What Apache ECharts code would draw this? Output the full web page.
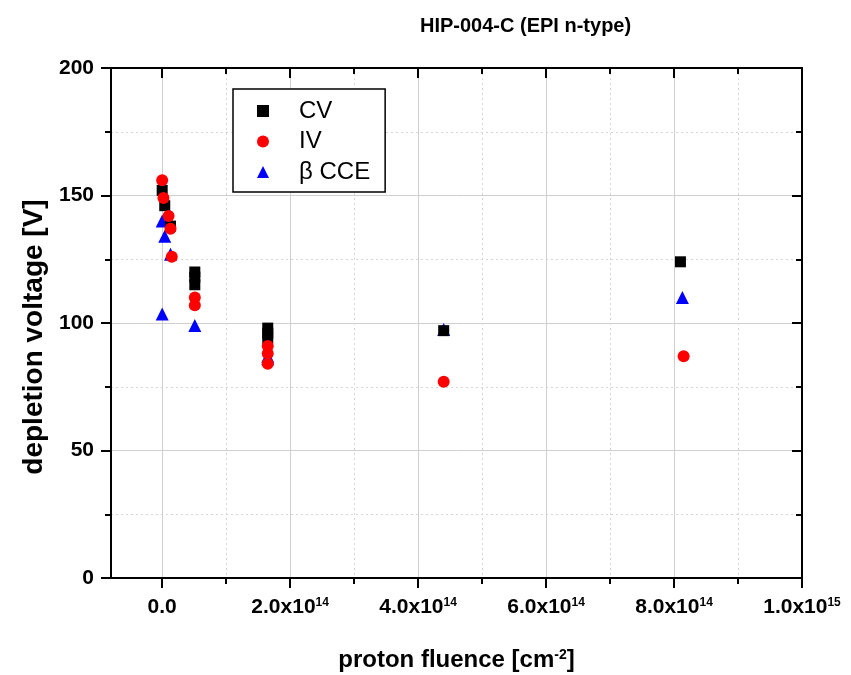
<!DOCTYPE html>
<html><head><meta charset="utf-8">
<script src="https://cdn.jsdelivr.net/npm/echarts@6/dist/echarts.min.js"></script>
<style>html,body{margin:0;padding:0;background:#fff}#c{width:851px;height:675px}</style>
</head><body><div id="c"></div>
<script>
// ---- data ----
const cvX = [0, 0.04e14, 0.13e14, 0.51e14, 0.51e14, 0.51e14, 1.65e14, 1.65e14, 1.65e14, 4.4e14, 8.1e14];
const cvY = [152, 146, 138, 120, 118, 115, 98, 96, 94, 97, 124];
const ivX = [0, 0.02e14, 0.1e14, 0.13e14, 0.15e14, 0.51e14, 0.51e14, 1.65e14, 1.65e14, 1.65e14, 4.4e14, 8.15e14];
const ivY = [156, 149, 142, 137, 126, 110, 107, 91, 88, 84, 77, 87];
const ccX = [0, 0.04e14, 0.13e14, 0, 0.51e14, 1.65e14, 1.65e14, 4.4e14, 8.13e14];
const ccY = [140, 134, 127, 103.5, 99, 87, 86, 97.5, 110];
const seriesNames = ['CV', 'IV', 'β CCE'];
const xMajorTicks = [0, 2e14, 4e14, 6e14, 8e14, 1e15];
const xMinorTicks = [1e14, 3e14, 5e14, 7e14, 9e14];
const xTickMantissa = ['0.0', '2.0', '4.0', '6.0', '8.0', '1.0'];
const xTickExp = ['', '14', '14', '14', '14', '15'];
const title = 'HIP-004-C (EPI n-type)';
const yName = 'depletion voltage [V]';

const FONT = '"Liberation Sans", Arial, Helvetica, sans-serif';
const xMin = -0.8e14, xMax = 1e15;
const pairs = (xs, ys) => xs.map((x, i) => [x, ys[i]]);

function xLabel(v) {
  const i = xMajorTicks.findIndex(t => Math.abs(t - v) < 1e10);
  if (i < 0) return '';
  return xTickExp[i] ? '{m|' + xTickMantissa[i] + 'x10}{s|' + xTickExp[i] + '}' : '{m|' + xTickMantissa[i] + '}';
}

const blackLine = {color: '#000', width: 2};
const chart = echarts.init(document.getElementById('c'));
chart.setOption({
  animation: false,
  backgroundColor: '#fff',
  title: {text: title, left: 415, top: 11,
    textStyle: {fontFamily: FONT, fontWeight: 'bold', fontSize: 20, color: '#000'}},
  grid: {left: 111, right: 49, top: 68, bottom: 97, containLabel: false, outerBoundsMode: 'none'},
  legend: {
    data: seriesNames, orient: 'vertical', left: 233, top: 89,
    padding: [10, 15, 8, 24], itemGap: 6.5, itemWidth: 12, itemHeight: 12,
    borderColor: '#000', borderWidth: 1.5, backgroundColor: '#fff',
    textStyle: {fontFamily: FONT, fontSize: 24, color: '#000', lineHeight: 24, padding: [0, 0, 0, 25]}
  },
  xAxis: [
    {type: 'value', min: xMin, max: xMax, position: 'bottom',
      axisLine: {show: true, onZero: false, lineStyle: blackLine},
      axisTick: {show: true, length: 10, lineStyle: blackLine, customValues: xMajorTicks},
      axisLabel: {customValues: xMajorTicks, margin: 19, formatter: xLabel,
        rich: {m: {fontFamily: FONT, fontWeight: 'bold', fontSize: 21, color: '#000', verticalAlign: 'top', lineHeight: 22},
               s: {fontFamily: FONT, fontWeight: 'bold', fontSize: 12, color: '#000', verticalAlign: 'top', lineHeight: 22, padding: [0, 0, 8, 0]}}},
      splitLine: {show: true, lineStyle: {color: '#cfcfcf', width: 1}},
      name: '{n|proton fluence [cm}{s|-2}{n|]}', nameLocation: 'middle', nameGap: 70,
      nameTextStyle: {rich: {n: {fontFamily: FONT, fontWeight: 'bold', fontSize: 24, color: '#000', verticalAlign: 'top', lineHeight: 26},
                             s: {fontFamily: FONT, fontWeight: 'bold', fontSize: 14, color: '#000', verticalAlign: 'top', lineHeight: 26}}}
    },
    {type: 'value', min: xMin, max: xMax, position: 'bottom',
      axisLine: {show: false, onZero: false},
      axisTick: {show: true, length: 6, lineStyle: blackLine, customValues: xMinorTicks},
      axisLabel: {show: false},
      splitLine: {show: true, lineStyle: {color: '#d6d6d6', width: 1, type: [2, 3]}}
    },
    {type: 'value', min: xMin, max: xMax, position: 'top',
      axisLine: {show: true, onZero: false, lineStyle: blackLine},
      axisTick: {show: true, inside: true, length: 10, lineStyle: blackLine, customValues: xMajorTicks},
      axisLabel: {show: false}, splitLine: {show: false}
    },
    {type: 'value', min: xMin, max: xMax, position: 'top',
      axisLine: {show: false, onZero: false},
      axisTick: {show: true, inside: true, length: 6, lineStyle: blackLine, customValues: xMinorTicks},
      axisLabel: {show: false}, splitLine: {show: false}
    }
  ],
  yAxis: [
    {type: 'value', min: 0, max: 200, interval: 50, position: 'left',
      axisLine: {show: true, onZero: false, lineStyle: blackLine},
      axisTick: {show: true, length: 10, lineStyle: blackLine},
      minorTick: {show: true, splitNumber: 2, length: 6, lineStyle: blackLine},
      splitLine: {show: true, lineStyle: {color: '#cfcfcf', width: 1}},
      minorSplitLine: {show: true, lineStyle: {color: '#d6d6d6', width: 1, type: [2, 3]}},
      axisLabel: {margin: 17, fontFamily: FONT, fontWeight: 'bold', fontSize: 21, color: '#000'},
      name: yName, nameLocation: 'middle', nameGap: 62, nameRotate: 90,
      nameTextStyle: {fontFamily: FONT, fontWeight: 'bold', fontSize: 28, color: '#000', padding: [0, 28, 0, 0]}
    },
    {type: 'value', min: 0, max: 200, interval: 50, position: 'right',
      axisLine: {show: true, onZero: false, lineStyle: blackLine},
      axisTick: {show: true, inside: true, length: 10, lineStyle: blackLine},
      minorTick: {show: true, splitNumber: 2, length: 6, lineStyle: blackLine},
      axisLabel: {show: false}, splitLine: {show: false}
    }
  ],
  series: [
    {name: 'β CCE', type: 'scatter', xAxisIndex: 0, yAxisIndex: 0, symbol: 'triangle', symbolSize: 13,
      itemStyle: {color: '#0000ff', opacity: 1}, data: pairs(ccX, ccY)},
    {name: 'CV', type: 'scatter', xAxisIndex: 0, yAxisIndex: 0, symbol: 'rect', symbolSize: 11,
      itemStyle: {color: '#000000', opacity: 1}, data: pairs(cvX, cvY)},
    {name: 'IV', type: 'scatter', xAxisIndex: 0, yAxisIndex: 0, symbol: 'circle', symbolSize: 12,
      itemStyle: {color: '#ff0000', opacity: 1}, data: pairs(ivX, ivY)}
  ]
});
</script>
</body></html>
